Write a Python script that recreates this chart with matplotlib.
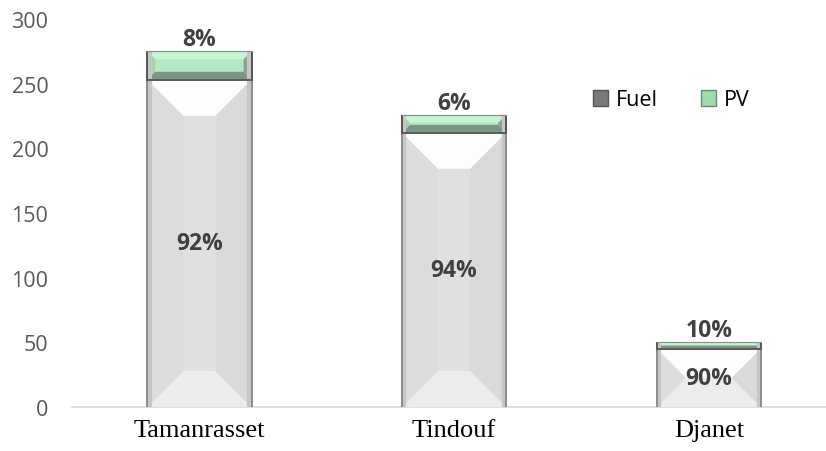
import numpy as np
import matplotlib.pyplot as plt
from matplotlib.patches import Polygon, Patch

sites = ['Tamanrasset', 'Tindouf', 'Djanet']
fuel = [253, 212, 45]
pv = [22, 14, 5]
yticks = [0, 50, 100, 150, 200, 250, 300]

fuel_shades = dict(top='#fdfdfd', bottom='#ececec', left='#dcdcdc', right='#d9d9d9', face='#e0e0e0')
pv_shades = dict(top='#c6f4d3', bottom='#7a9682', left='#a2d4ae', right='#80a88b', face='#b3e9c1')


def bevel(ax, patch, depth, shades, edge):
    # split one bar into a flat face plus four bevel facets
    x0, y0 = patch.get_x(), patch.get_y()
    x1, y1 = x0 + patch.get_width(), y0 + patch.get_height()
    p0 = ax.transData.transform((0, 0))
    p1 = ax.transData.transform((1, 1))
    sx, sy = p1[0] - p0[0], p1[1] - p0[1]
    d = min(depth, (x1 - x0) * sx / 2, (y1 - y0) * sy / 2)
    dx, dy = d / sx, d / sy
    facets = {
        'face': [(x0 + dx, y0 + dy), (x1 - dx, y0 + dy), (x1 - dx, y1 - dy), (x0 + dx, y1 - dy)],
        'top': [(x0, y1), (x1, y1), (x1 - dx, y1 - dy), (x0 + dx, y1 - dy)],
        'bottom': [(x0, y0), (x1, y0), (x1 - dx, y0 + dy), (x0 + dx, y0 + dy)],
        'left': [(x0, y0), (x0 + dx, y0 + dy), (x0 + dx, y1 - dy), (x0, y1)],
        'right': [(x1, y0), (x1 - dx, y0 + dy), (x1 - dx, y1 - dy), (x1, y1)],
    }
    for k, pts in facets.items():
        ax.add_patch(Polygon(pts, closed=True, facecolor=shades[k], edgecolor='none', zorder=3))
    # darker rims on the two long sides
    for xe, off in [(x0, 1), (x1, -1)]:
        ax.plot([xe + off * 2.5 / sx] * 2, [y0, y1], color='#c6c6c6', lw=3, zorder=4,
                solid_capstyle='butt')
        ax.plot([xe, xe], [y0, y1], color=edge, lw=1.4, zorder=4, solid_capstyle='butt')


fig = plt.figure(figsize=(8.26, 4.52), dpi=100)
ax = fig.add_axes([72 / 826, 44 / 452, (826 - 72) / 826, 388 / 452])
x = np.arange(len(sites))
ax.set_xlim(-0.5, 2.46)
ax.set_ylim(0, 300)

fuel_bars = ax.bar(x, fuel, width=0.41, color='#e0e0e0', edgecolor='none', zorder=2)
pv_bars = ax.bar(x, pv, bottom=fuel, width=0.41, color='#b3e9c1', edgecolor='none', zorder=2)

for b in fuel_bars:
    bevel(ax, b, 36, fuel_shades, '#8c8c8c')
for b in pv_bars:
    bevel(ax, b, 8, pv_shades, '#555555')
    ax.plot([b.get_x(), b.get_x() + b.get_width()], [b.get_y(), b.get_y()],
            color='#5a5a5a', lw=1.4, zorder=5)
    top = b.get_y() + b.get_height()
    ax.plot([b.get_x(), b.get_x() + b.get_width()], [top, top],
            color='#8a8a8a', lw=0.8, zorder=5)

lab = dict(fontfamily='Open Sans', fontweight='bold', fontsize=16.5, color='#404040', zorder=6)
for i in range(len(sites)):
    total = fuel[i] + pv[i]
    ax.text(x[i], fuel[i] / 2, f'{round(fuel[i] / total * 100)}%', ha='center', va='center', **lab)
    ax.annotate(f'{round(pv[i] / total * 100)}%', (x[i], total), xytext=(0, 0),
                textcoords='offset points', ha='center', va='bottom', **lab)

ax.set_yticks(yticks)
ax.set_yticklabels([str(v) for v in yticks], fontfamily='Open Sans', fontsize=15.5, color='#595959')
ax.set_xticks(x)
ax.set_xticklabels(sites, fontfamily='Liberation Serif', fontsize=19, color='black')
ax.tick_params(axis='y', length=0, pad=17)
ax.tick_params(axis='x', length=0, pad=9)
for s in ['top', 'right', 'left']:
    ax.spines[s].set_visible(False)
ax.spines['bottom'].set_color('#d9d9d9')
ax.spines['bottom'].set_linewidth(1.2)

handles = [Patch(facecolor='#7a7a7a', edgecolor='#555555', label='Fuel'),
           Patch(facecolor='#9edcae', edgecolor='#6c8a74', label='PV')]
fig.legend(handles=handles, loc='center left', bbox_to_anchor=(574 / 826, 1 - 101 / 452),
           ncol=2, frameon=False, handlelength=0.7, handleheight=0.7, handletextpad=0.35,
           columnspacing=2.0, prop=dict(family='Open Sans', size=15.5))

fig.savefig('out.png', dpi=100)
